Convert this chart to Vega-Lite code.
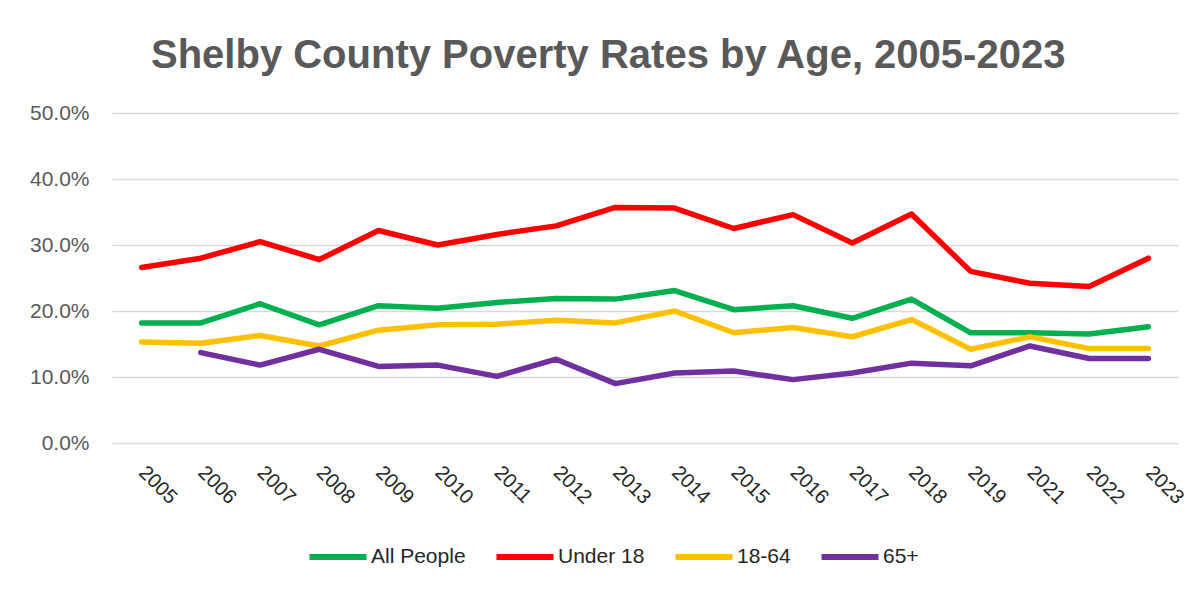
{
  "$schema": "https://vega.github.io/schema/vega-lite/v6.json",
  "width": 1066,
  "height": 330,
  "autosize": {"type": "none"},
  "padding": {"left": 112, "top": 113, "right": 23, "bottom": 147},
  "background": "white",
  "title": {
    "text": "Shelby County Poverty Rates by Age, 2005-2023",
    "font": "Liberation Sans",
    "fontSize": 40,
    "fontWeight": "bold",
    "color": "#595959",
    "anchor": "middle",
    "frame": "bounds",
    "offset": 26
  },
  "data": {
    "values": [
      {"year": "2005", "group": "All People", "rate": 0.182},
      {"year": "2006", "group": "All People", "rate": 0.182},
      {"year": "2007", "group": "All People", "rate": 0.211},
      {"year": "2008", "group": "All People", "rate": 0.179},
      {"year": "2009", "group": "All People", "rate": 0.208},
      {"year": "2010", "group": "All People", "rate": 0.204},
      {"year": "2011", "group": "All People", "rate": 0.213},
      {"year": "2012", "group": "All People", "rate": 0.219},
      {"year": "2013", "group": "All People", "rate": 0.218},
      {"year": "2014", "group": "All People", "rate": 0.231},
      {"year": "2015", "group": "All People", "rate": 0.202},
      {"year": "2016", "group": "All People", "rate": 0.208},
      {"year": "2017", "group": "All People", "rate": 0.189},
      {"year": "2018", "group": "All People", "rate": 0.218},
      {"year": "2019", "group": "All People", "rate": 0.167},
      {"year": "2021", "group": "All People", "rate": 0.167},
      {"year": "2022", "group": "All People", "rate": 0.165},
      {"year": "2023", "group": "All People", "rate": 0.176},
      {"year": "2005", "group": "Under 18", "rate": 0.266},
      {"year": "2006", "group": "Under 18", "rate": 0.280},
      {"year": "2007", "group": "Under 18", "rate": 0.305},
      {"year": "2008", "group": "Under 18", "rate": 0.278},
      {"year": "2009", "group": "Under 18", "rate": 0.322},
      {"year": "2010", "group": "Under 18", "rate": 0.300},
      {"year": "2011", "group": "Under 18", "rate": 0.316},
      {"year": "2012", "group": "Under 18", "rate": 0.329},
      {"year": "2013", "group": "Under 18", "rate": 0.357},
      {"year": "2014", "group": "Under 18", "rate": 0.356},
      {"year": "2015", "group": "Under 18", "rate": 0.325},
      {"year": "2016", "group": "Under 18", "rate": 0.346},
      {"year": "2017", "group": "Under 18", "rate": 0.303},
      {"year": "2018", "group": "Under 18", "rate": 0.347},
      {"year": "2019", "group": "Under 18", "rate": 0.260},
      {"year": "2021", "group": "Under 18", "rate": 0.242},
      {"year": "2022", "group": "Under 18", "rate": 0.237},
      {"year": "2023", "group": "Under 18", "rate": 0.280},
      {"year": "2005", "group": "18-64", "rate": 0.153},
      {"year": "2006", "group": "18-64", "rate": 0.151},
      {"year": "2007", "group": "18-64", "rate": 0.163},
      {"year": "2008", "group": "18-64", "rate": 0.147},
      {"year": "2009", "group": "18-64", "rate": 0.171},
      {"year": "2010", "group": "18-64", "rate": 0.179},
      {"year": "2011", "group": "18-64", "rate": 0.180},
      {"year": "2012", "group": "18-64", "rate": 0.186},
      {"year": "2013", "group": "18-64", "rate": 0.182},
      {"year": "2014", "group": "18-64", "rate": 0.200},
      {"year": "2015", "group": "18-64", "rate": 0.167},
      {"year": "2016", "group": "18-64", "rate": 0.175},
      {"year": "2017", "group": "18-64", "rate": 0.161},
      {"year": "2018", "group": "18-64", "rate": 0.187},
      {"year": "2019", "group": "18-64", "rate": 0.142},
      {"year": "2021", "group": "18-64", "rate": 0.161},
      {"year": "2022", "group": "18-64", "rate": 0.143},
      {"year": "2023", "group": "18-64", "rate": 0.143},
      {"year": "2006", "group": "65+", "rate": 0.137},
      {"year": "2007", "group": "65+", "rate": 0.118},
      {"year": "2008", "group": "65+", "rate": 0.142},
      {"year": "2009", "group": "65+", "rate": 0.116},
      {"year": "2010", "group": "65+", "rate": 0.118},
      {"year": "2011", "group": "65+", "rate": 0.101},
      {"year": "2012", "group": "65+", "rate": 0.127},
      {"year": "2013", "group": "65+", "rate": 0.090},
      {"year": "2014", "group": "65+", "rate": 0.106},
      {"year": "2015", "group": "65+", "rate": 0.109},
      {"year": "2016", "group": "65+", "rate": 0.096},
      {"year": "2017", "group": "65+", "rate": 0.106},
      {"year": "2018", "group": "65+", "rate": 0.121},
      {"year": "2019", "group": "65+", "rate": 0.117},
      {"year": "2021", "group": "65+", "rate": 0.147},
      {"year": "2022", "group": "65+", "rate": 0.128},
      {"year": "2023", "group": "65+", "rate": 0.128}
    ]
  },
  "mark": {"type": "line", "strokeWidth": 5.5, "strokeCap": "round", "strokeJoin": "round"},
  "encoding": {
    "x": {
      "field": "year",
      "type": "ordinal",
      "scale": {"type": "point", "padding": 0.5},
      "axis": {
        "title": null,
        "labelAngle": 45,
        "labelAlign": "left",
        "labelBaseline": "middle",
        "labelFont": "Liberation Sans",
        "labelFontSize": 20,
        "labelColor": "#262626",
        "labelPadding": 26,
        "ticks": false,
        "domain": false,
        "grid": false
      }
    },
    "y": {
      "field": "rate",
      "type": "quantitative",
      "scale": {"domain": [0, 0.5], "nice": false},
      "axis": {
        "title": null,
        "format": ".1%",
        "values": [0, 0.1, 0.2, 0.3, 0.4, 0.5],
        "labelFont": "Liberation Sans",
        "labelFontSize": 21,
        "labelColor": "#595959",
        "labelPadding": 23,
        "ticks": false,
        "domain": false,
        "grid": true,
        "gridColor": "#d9d9d9",
        "gridWidth": 1.5
      }
    },
    "color": {
      "field": "group",
      "type": "nominal",
      "scale": {
        "domain": ["All People", "Under 18", "18-64", "65+"],
        "range": ["#00B050", "#FF0000", "#FFC000", "#7030A0"]
      },
      "legend": {
        "title": null,
        "orient": "none",
        "direction": "horizontal",
        "legendX": 194,
        "legendY": 412,
        "symbolType": "stroke",
        "symbolStrokeWidth": 6,
        "symbolSize": 3250,
        "labelFont": "Liberation Sans",
        "labelFontSize": 21,
        "labelColor": "#262626",
        "labelOffset": 1,
        "columnPadding": 18
      }
    }
  },
  "config": {"view": {"stroke": null}}
}
